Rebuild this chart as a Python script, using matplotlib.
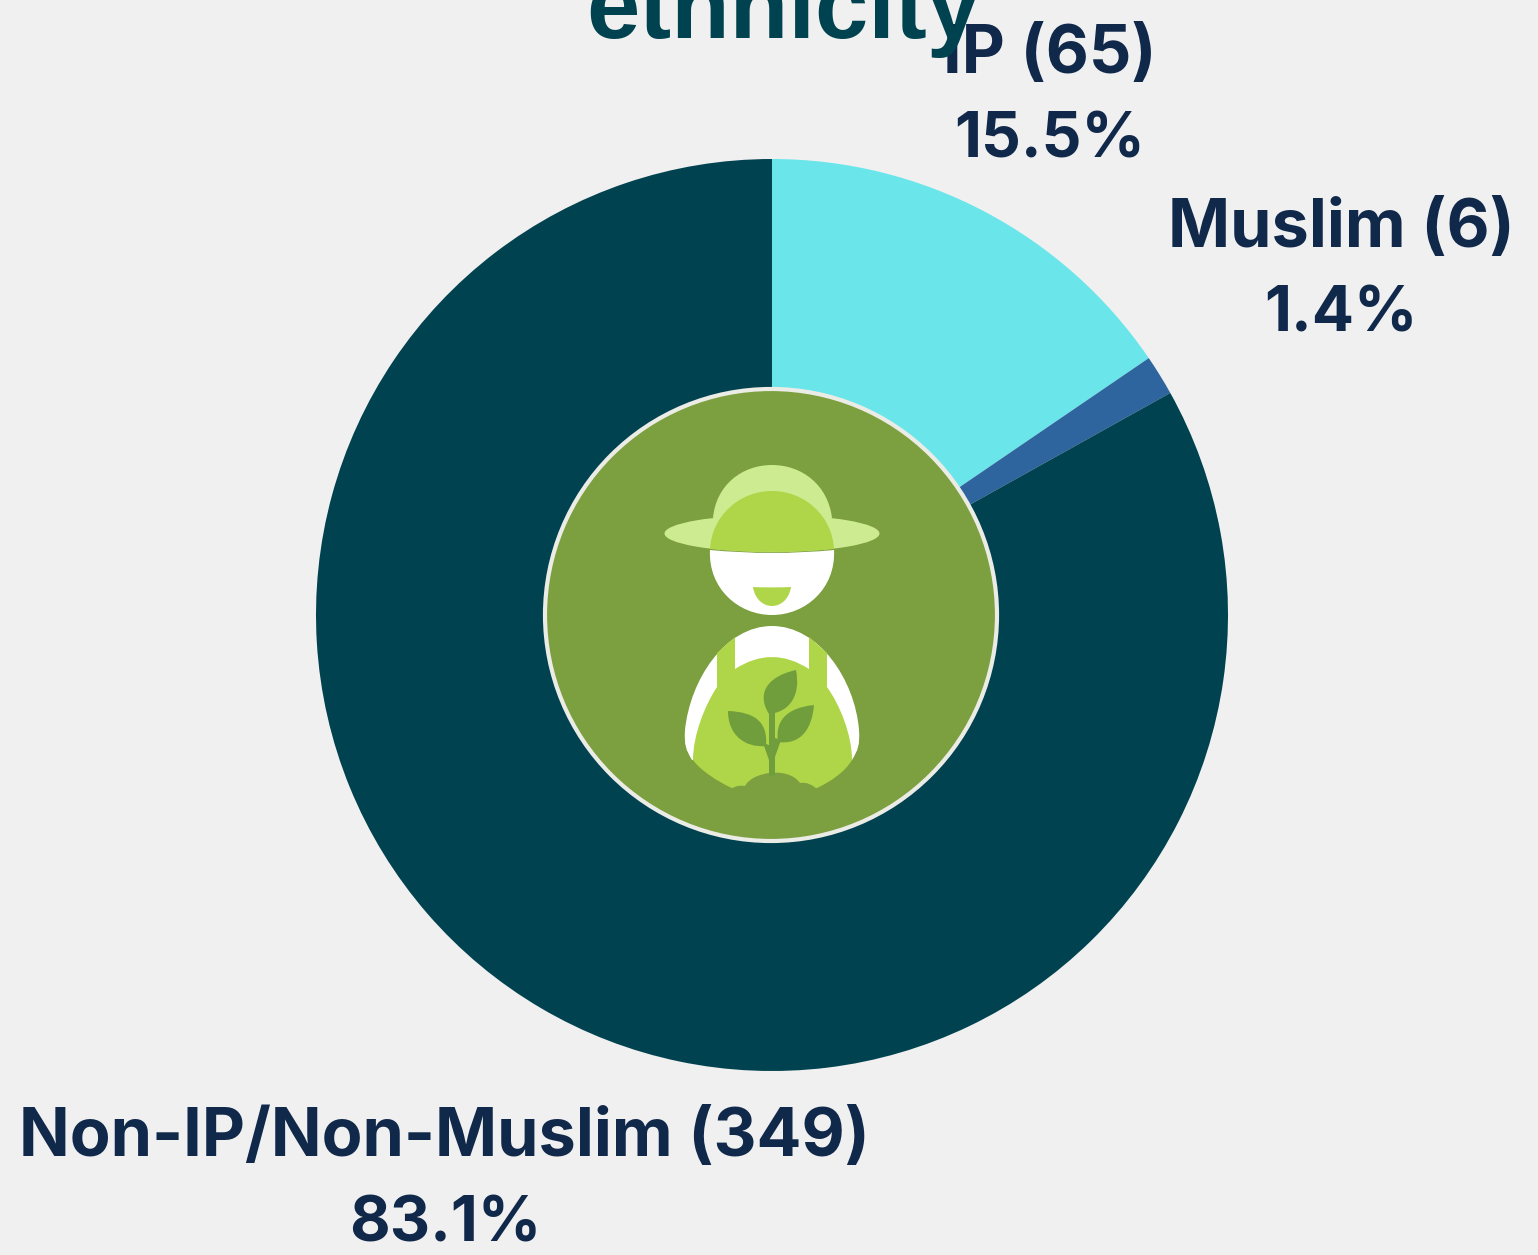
import matplotlib
matplotlib.use("Agg")
import matplotlib.pyplot as plt
from matplotlib.patches import Circle, Ellipse, PathPatch, Rectangle
from matplotlib.path import Path

labels = ["IP (65)", "Muslim (6)", "Non-IP/Non-Muslim (349)"]
percents = ["15.5%", "1.4%", "83.1%"]
values = [65, 6, 349]
colors = ["#6AE6EA", "#2F659E", "#00424F"]
title_text = "ethnicity"

W, H = 1538, 1255
fig = plt.figure(figsize=(W/100, H/100), dpi=100, facecolor="#F0F0F0")

pax = fig.add_axes([316/W, 1-1071/H, 912/W, 912/H])
pax.pie(values, colors=colors, startangle=90, counterclock=False, radius=1,
        wedgeprops=dict(linewidth=0))
pax.set_xlim(-1, 1); pax.set_ylim(-1, 1); pax.set_aspect("equal")

ov = fig.add_axes([0, 0, 1, 1]); ov.set_xlim(0, W); ov.set_ylim(H, 0); ov.axis("off"); ov.patch.set_alpha(0)
G = "#7C9F3F"; L = "#AFD648"; P = "#CDEB90"; D = "#709E3C"
ov.add_patch(Circle((771, 615), 226, fc=G, ec="#ECECE6", lw=3))

M, LN, C3, C4, Z = Path.MOVETO, Path.LINETO, Path.CURVE3, Path.CURVE4, Path.CLOSEPOLY
def shape(cmds, fc):
    verts = [p for _, p in cmds]
    codes = [c for c, _ in cmds]
    ov.add_patch(PathPatch(Path(verts, codes), fc=fc, ec="none", lw=0))

# brim and dome
ov.add_patch(Ellipse((772, 533.5), 215, 37, fc=P, ec="none"))
shape([(M,(713,518)),(C4,(716,485)),(C4,(742,465)),(C4,(772,465)),(C4,(802,465)),(C4,(828,485)),(C4,(832,518)),(Z,(713,518))], P)
# inner hat
shape([(M,(710,549)),(C4,(712,515)),(C4,(740,491)),(C4,(772,491)),(C4,(804,491)),(C4,(832,515)),(C4,(834,549)),
       (C3,(772,555)),(C3,(710,549)),(Z,(710,549))], L)
# face
shape([(M,(710,550)),(C3,(772,556)),(C3,(834,550)),(C4,(836,588)),(C4,(806,615)),(C4,(772,615)),
       (C4,(738,615)),(C4,(708,588)),(C4,(710,550)),(Z,(710,550))], "white")
# mouth
shape([(M,(753,587)),(C3,(772,588)),(C3,(791,587)),(C4,(789,600)),(C4,(780,606)),(C4,(772,606)),
       (C4,(764,606)),(C4,(755,600)),(C4,(753,587)),(Z,(753,587))], L)
# body (white)
shape([(M,(692,760)),(C4,(686,750)),(C4,(684,745)),(C4,(685,730)),(C4,(690,680)),(C4,(725,626)),(C4,(772,626)),
       (C4,(819,626)),(C4,(855,680)),(C4,(859,730)),(C4,(860,745)),(C4,(858,750)),(C4,(852,760)),
       (LN,(772,750)),(Z,(692,760))], "white")
# overalls
shape([(M,(717,653)),(LN,(735,637)),(LN,(735,669)),(C3,(772,645)),(C3,(809,669)),(LN,(809,637)),(LN,(827,653)),
       (LN,(827,687)),(C4,(840,705)),(C4,(852,735)),(C4,(852,760)),(C4,(845,772)),(C4,(830,782)),(C4,(817,788)),
       (LN,(772,788)),(LN,(732,788)),
       (C4,(718,782)),(C4,(700,770)),(C4,(693,760)),(C4,(693,735)),(C4,(705,705)),(C4,(717,687)),(Z,(717,653))], L)
# soil
shape([(M,(728,792)),(C3,(735,784)),(C3,(745,786)),(C4,(752,772)),(C4,(788,766)),(C4,(800,783)),
       (C3,(810,781)),(C3,(820,792)),(Z,(728,792))], G)
# sprout
ov.add_patch(Rectangle((769, 712), 6, 64, fc=D, ec="none"))
shape([(M,(769,714)),(C4,(757,695)),(C4,(765,677)),(C4,(796,670)),(C4,(801,695)),(C4,(790,712)),(C4,(769,714)),(Z,(769,714))], D)
shape([(M,(766,746)),(C4,(745,748)),(C4,(728,735)),(C4,(728,711)),(C4,(755,712)),(C4,(768,722)),(C4,(766,746)),(Z,(766,746))], D)
shape([(M,(778,742)),(C4,(800,745)),(C4,(812,730)),(C4,(814,705)),(C4,(785,708)),(C4,(775,722)),(C4,(778,742)),(Z,(778,742))], D)
shape([(M,(763,743)),(LN,(769,745)),(LN,(775,757)),(LN,(769,760)),(Z,(763,743))], D)
shape([(M,(781,740)),(LN,(775,738)),(LN,(769,752)),(LN,(775,757)),(Z,(781,740))], D)

font = "Inter"
dark = "#10284A"
def t(x, y, s, size=48):
    ov.text(x, y, s, ha="center", va="baseline", fontsize=size, fontweight="bold",
            family=font, color=dark)
t(1050, 73, labels[0]); t(1050, 157, percents[0], 45)
t(1341, 247, labels[1]); t(1341, 331, percents[1], 45)
t(444, 1156, labels[2]); t(445, 1241, percents[2], 45)
ov.text(783, 38, title_text, ha="center", va="baseline", fontsize=69, fontweight="bold",
        family="Liberation Sans", color="#00424F")
fig.savefig("out.png", dpi=100, facecolor=fig.get_facecolor())
